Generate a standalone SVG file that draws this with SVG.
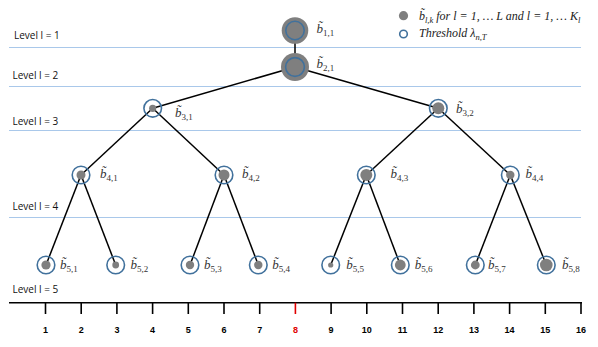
<svg xmlns="http://www.w3.org/2000/svg" width="598" height="347" viewBox="0 0 598 347">
<style>
.bg{fill:#ffffff}
.lvl{stroke:#a9c8ea;stroke-width:1}
.lvlt{font-family:"Open Sans","Liberation Sans",sans-serif;font-size:10px;fill:#111}
.edge{stroke:#000;stroke-width:1.5;fill:none}
.ring{fill:none;stroke:#41719c;stroke-width:1.6}
.dot{fill:#7f7f7f}
.big{fill:#7f7f7f}
.lbl{font-family:"Liberation Serif","DejaVu Serif",serif;font-style:italic;font-size:13px;fill:#333}
.sub{font-style:normal;font-size:9px}
.axis{stroke:#000;stroke-width:1.6}
.tick{stroke:#000;stroke-width:1.6}
.tickr{stroke:#e00000;stroke-width:1.6}
.num{font-family:"Liberation Sans",Arial,sans-serif;font-weight:bold;font-size:9px;fill:#000;text-anchor:middle}
.numr{fill:#e00000}
.leg{font-family:"Liberation Serif","DejaVu Serif",serif;font-style:italic;font-size:12px;fill:#222}
.legsub{font-style:italic;font-size:8.5px}
</style>
<rect class="bg" x="0" y="0" width="598" height="347"/>
<g id="levels">
<line class="lvl" x1="9" y1="47.5" x2="581" y2="47.5"/>
<line class="lvl" x1="9" y1="86.5" x2="581" y2="86.5"/>
<line class="lvl" x1="9" y1="130.5" x2="581" y2="130.5"/>
<line class="lvl" x1="9" y1="217.5" x2="581" y2="217.5"/>
<text class="lvlt" x="14" y="39">Level l = 1</text>
<text class="lvlt" x="12.5" y="79">Level l = 2</text>
<text class="lvlt" x="12.5" y="125">Level l = 3</text>
<text class="lvlt" x="12.5" y="210">Level l = 4</text>
<text class="lvlt" x="12.5" y="293">Level l = 5</text>
</g>
<g id="connectors">
<line class="edge" x1="295" y1="30.5" x2="295" y2="67"/>
<line class="edge" x1="295" y1="67" x2="152.7" y2="108.3"/>
<line class="edge" x1="295" y1="67" x2="438.3" y2="108.3"/>
<line class="edge" x1="152.7" y1="108.3" x2="81" y2="175"/>
<line class="edge" x1="152.7" y1="108.3" x2="224" y2="175"/>
<line class="edge" x1="438.3" y1="108.3" x2="366.3" y2="175"/>
<line class="edge" x1="438.3" y1="108.3" x2="510.3" y2="175"/>
<line class="edge" x1="81" y1="175" x2="46" y2="265"/>
<line class="edge" x1="81" y1="175" x2="115.7" y2="265"/>
<line class="edge" x1="224" y1="175" x2="190" y2="265"/>
<line class="edge" x1="224" y1="175" x2="258.3" y2="265"/>
<line class="edge" x1="366.3" y1="175" x2="330.7" y2="265"/>
<line class="edge" x1="366.3" y1="175" x2="400.3" y2="265"/>
<line class="edge" x1="510.3" y1="175" x2="475.3" y2="265"/>
<line class="edge" x1="510.3" y1="175" x2="546.3" y2="265"/>
</g>
<g id="b11"><circle class="big" cx="295" cy="30.5" r="13.3"/><circle class="ring" cx="295" cy="30.5" r="9.2"/><text class="lbl" x="316.5" y="33">b̃<tspan class="sub" dy="3">1,1</tspan></text></g>
<g id="b21"><circle class="big" cx="295" cy="67" r="14"/><circle class="ring" cx="295" cy="67" r="9.4"/><text class="lbl" x="316.5" y="68">b̃<tspan class="sub" dy="3">2,1</tspan></text></g>
<g id="b31"><circle class="ring" cx="152.7" cy="108.3" r="8.8"/><circle class="dot" cx="152.7" cy="108.3" r="3.6"/><text class="lbl" x="175" y="117">b̃<tspan class="sub" dy="3">3,1</tspan></text></g>
<g id="b32"><circle class="ring" cx="438.3" cy="108.3" r="8.8"/><circle class="dot" cx="438.3" cy="108.3" r="6"/><text class="lbl" x="456" y="113">b̃<tspan class="sub" dy="3">3,2</tspan></text></g>
<g id="b41"><circle class="ring" cx="81" cy="175" r="8.8"/><circle class="dot" cx="81" cy="175" r="4.5"/><text class="lbl" x="100" y="178">b̃<tspan class="sub" dy="3">4,1</tspan></text></g>
<g id="b42"><circle class="ring" cx="224" cy="175" r="8.8"/><circle class="dot" cx="224" cy="175" r="5.5"/><text class="lbl" x="242" y="178">b̃<tspan class="sub" dy="3">4,2</tspan></text></g>
<g id="b43"><circle class="ring" cx="366.3" cy="175" r="8.8"/><circle class="dot" cx="366.3" cy="175" r="6"/><text class="lbl" x="390.5" y="178">b̃<tspan class="sub" dy="3">4,3</tspan></text></g>
<g id="b44"><circle class="ring" cx="510.3" cy="175" r="8.8"/><circle class="dot" cx="510.3" cy="175" r="4.2"/><text class="lbl" x="525.5" y="178">b̃<tspan class="sub" dy="3">4,4</tspan></text></g>
<g id="b51"><circle class="ring" cx="46" cy="265" r="8.8"/><circle class="dot" cx="46" cy="265" r="4.6"/><text class="lbl" x="60" y="269">b̃<tspan class="sub" dy="3">5,1</tspan></text></g>
<g id="b52"><circle class="ring" cx="115.7" cy="265" r="8.8"/><circle class="dot" cx="115.7" cy="265" r="3.4"/><text class="lbl" x="130.5" y="269">b̃<tspan class="sub" dy="3">5,2</tspan></text></g>
<g id="b53"><circle class="ring" cx="190" cy="265" r="8.8"/><circle class="dot" cx="190" cy="265" r="4.2"/><text class="lbl" x="204" y="269">b̃<tspan class="sub" dy="3">5,3</tspan></text></g>
<g id="b54"><circle class="ring" cx="258.3" cy="265" r="8.8"/><circle class="dot" cx="258.3" cy="265" r="4.2"/><text class="lbl" x="272.3" y="269">b̃<tspan class="sub" dy="3">5,4</tspan></text></g>
<g id="b55"><circle class="ring" cx="330.7" cy="265" r="8.8"/><circle class="dot" cx="330.7" cy="265" r="2.6"/><text class="lbl" x="346.3" y="269">b̃<tspan class="sub" dy="3">5,5</tspan></text></g>
<g id="b56"><circle class="ring" cx="400.3" cy="265" r="8.8"/><circle class="dot" cx="400.3" cy="265" r="5.4"/><text class="lbl" x="414.7" y="269">b̃<tspan class="sub" dy="3">5,6</tspan></text></g>
<g id="b57"><circle class="ring" cx="475.3" cy="265" r="8.8"/><circle class="dot" cx="475.3" cy="265" r="4.4"/><text class="lbl" x="488" y="269">b̃<tspan class="sub" dy="3">5,7</tspan></text></g>
<g id="b58"><circle class="ring" cx="546.3" cy="265" r="8.8"/><circle class="dot" cx="546.3" cy="265" r="6.3"/><text class="lbl" x="562" y="269">b̃<tspan class="sub" dy="3">5,8</tspan></text></g>
<g id="legend">
<circle class="dot" cx="403.5" cy="15.7" r="4.6"/>
<text class="leg" x="419" y="19.5">b̃<tspan class="legsub" dy="3">l,k</tspan><tspan dy="-3"> for l = 1, … L and l = 1, … K</tspan><tspan class="legsub" dy="3">l</tspan></text>
<circle class="ring" cx="403.5" cy="34" r="3.8"/>
<text class="leg" x="419" y="37">Threshold λ<tspan class="legsub" dy="3">n,T</tspan></text>
</g>
<g id="axis">
<line class="axis" x1="9" y1="302.7" x2="582" y2="302.7"/>
<line class="tick" x1="45.5" y1="302.7" x2="45.5" y2="314"/>
<line class="tick" x1="81.2" y1="302.7" x2="81.2" y2="314"/>
<line class="tick" x1="116.9" y1="302.7" x2="116.9" y2="314"/>
<line class="tick" x1="152.6" y1="302.7" x2="152.6" y2="314"/>
<line class="tick" x1="188.3" y1="302.7" x2="188.3" y2="314"/>
<line class="tick" x1="224" y1="302.7" x2="224" y2="314"/>
<line class="tick" x1="259.7" y1="302.7" x2="259.7" y2="314"/>
<line class="tickr" x1="295.4" y1="302.7" x2="295.4" y2="314"/>
<line class="tick" x1="331.1" y1="302.7" x2="331.1" y2="314"/>
<line class="tick" x1="366.8" y1="302.7" x2="366.8" y2="314"/>
<line class="tick" x1="402.5" y1="302.7" x2="402.5" y2="314"/>
<line class="tick" x1="438.2" y1="302.7" x2="438.2" y2="314"/>
<line class="tick" x1="473.9" y1="302.7" x2="473.9" y2="314"/>
<line class="tick" x1="509.6" y1="302.7" x2="509.6" y2="314"/>
<line class="tick" x1="545.3" y1="302.7" x2="545.3" y2="314"/>
<line class="tick" x1="581" y1="302.7" x2="581" y2="314"/>
<text class="num" x="45.5" y="333">1</text>
<text class="num" x="81.2" y="333">2</text>
<text class="num" x="116.9" y="333">3</text>
<text class="num" x="152.6" y="333">4</text>
<text class="num" x="188.3" y="333">5</text>
<text class="num" x="224" y="333">6</text>
<text class="num" x="259.7" y="333">7</text>
<text class="num numr" x="295.4" y="333">8</text>
<text class="num" x="331.1" y="333">9</text>
<text class="num" x="366.8" y="333">10</text>
<text class="num" x="402.5" y="333">11</text>
<text class="num" x="438.2" y="333">12</text>
<text class="num" x="473.9" y="333">13</text>
<text class="num" x="509.6" y="333">14</text>
<text class="num" x="545.3" y="333">15</text>
<text class="num" x="581" y="333">16</text>
</g>
</svg>
